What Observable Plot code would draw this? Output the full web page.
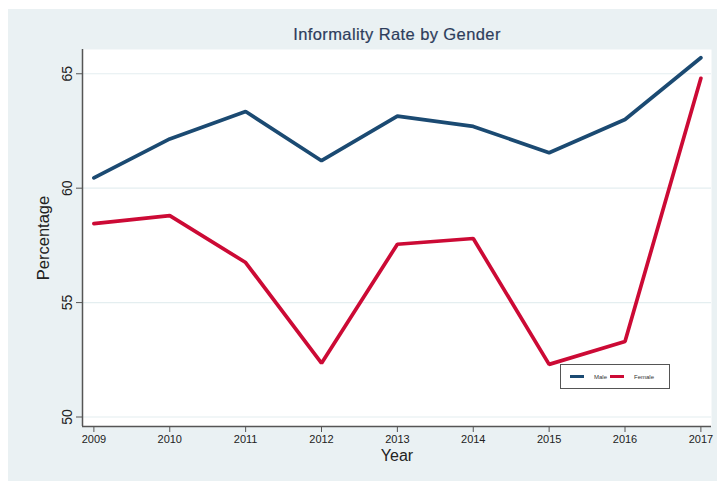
<!DOCTYPE html>
<html>
<head>
<meta charset="utf-8">
<script src="https://cdn.jsdelivr.net/npm/d3@7"></script>
<script src="https://cdn.jsdelivr.net/npm/@observablehq/plot@0.6"></script>
<style>
  body { margin: 0; background: #fff; font-family: "Liberation Sans", Arial, sans-serif; }
  #wrap { position: relative; width: 717px; height: 483px; overflow: hidden; }
  #bg { position: absolute; left: 8px; top: 9px; right: 0; bottom: 2px; background: #eaf1f3; }
  #chart { position: absolute; left: 0; top: 0; }
  #title { position: absolute; left: 82px; width: 630px; top: 25px; text-align: center;
           font-size: 16.5px; letter-spacing: 0.4px; color: #2e3d5c; -webkit-text-stroke: 0.2px #2e3d5c; }
  #legend { position: absolute; left: 560px; top: 364px; width: 110px; height: 25px;
            border: 1.5px solid #555; background: #fff; box-sizing: border-box;
            display: flex; align-items: center; font-size: 6px; color: #333; }
  .sw { display: inline-block; width: 14px; height: 3px; }
</style>
</head>
<body>
<div id="wrap">
  <div id="bg"></div>
  <div id="chart"></div>
  <div id="title">Informality Rate by Gender</div>
  <div id="legend"></div>
</div>
<script>
const years = [2009, 2010, 2011, 2012, 2013, 2014, 2015, 2016, 2017];
const male = [60.45, 62.15, 63.35, 61.2, 63.15, 62.7, 61.55, 63.0, 65.7];
const female = [58.45, 58.8, 56.75, 52.35, 57.55, 57.8, 52.3, 53.3, 64.8];
const yTicks = [50, 55, 60, 65];
const seriesNames = ["Male", "Female"];
const seriesColors = ["#1b4a72", "#cc0a35"];

const xDomain = [2008.85, 2017.14];
const yDomain = [49.585, 66.06];

const maleData = years.map((y, i) => ({year: y, value: male[i]}));
const femaleData = years.map((y, i) => ({year: y, value: female[i]}));

const chart = Plot.plot({
  width: 717,
  height: 483,
  marginLeft: 82,
  marginTop: 49,
  marginRight: 6,
  marginBottom: 57,
  style: { background: "transparent", fontFamily: "Liberation Sans, Arial, sans-serif", color: "#222" },
  x: { domain: xDomain },
  y: { domain: yDomain },
  marks: [
    Plot.frame({ fill: "white", stroke: null }),
    Plot.ruleY(yTicks, { stroke: "#e4eef0", strokeWidth: 1.2 }),
    Plot.ruleX([xDomain[0]], { stroke: "#555", strokeWidth: 1.5 }),
    Plot.ruleY([yDomain[0]], { stroke: "#555", strokeWidth: 1.5 }),
    Plot.axisY({ ticks: yTicks, tickSize: 6, tickRotate: -90, tickPadding: 5, fontSize: 14,
                 label: null, stroke: "#555" }),
    Plot.axisX({ ticks: years, tickSize: 6, tickPadding: 3, fontSize: 11, label: null,
                 tickFormat: d => String(d), stroke: "#555", style: { letterSpacing: "0.6px" } }),
    Plot.text(["Percentage"], { frameAnchor: "left", rotate: -90, dx: -39, fontSize: 16.5,
                                textAnchor: "middle", fill: "#222", style: { letterSpacing: "0.3px" } }),
    Plot.text(["Year"], { frameAnchor: "bottom", dy: 34, fontSize: 16, textAnchor: "middle", fill: "#222" }),
    Plot.line(maleData, { x: "year", y: "value", stroke: seriesColors[0], strokeWidth: 3.7, strokeLinejoin: "miter" }),
    Plot.line(femaleData, { x: "year", y: "value", stroke: seriesColors[1], strokeWidth: 3.7, strokeLinejoin: "miter" })
  ]
});
document.getElementById("chart").appendChild(chart);

const legend = document.getElementById("legend");
legend.innerHTML =
  `<span class="sw" style="background:${seriesColors[0]};margin-left:9px"></span>` +
  `<span style="margin-left:10px">${seriesNames[0]}</span>` +
  `<span class="sw" style="background:${seriesColors[1]};margin-left:3px"></span>` +
  `<span style="margin-left:10px">${seriesNames[1]}</span>`;
</script>
</body>
</html>
